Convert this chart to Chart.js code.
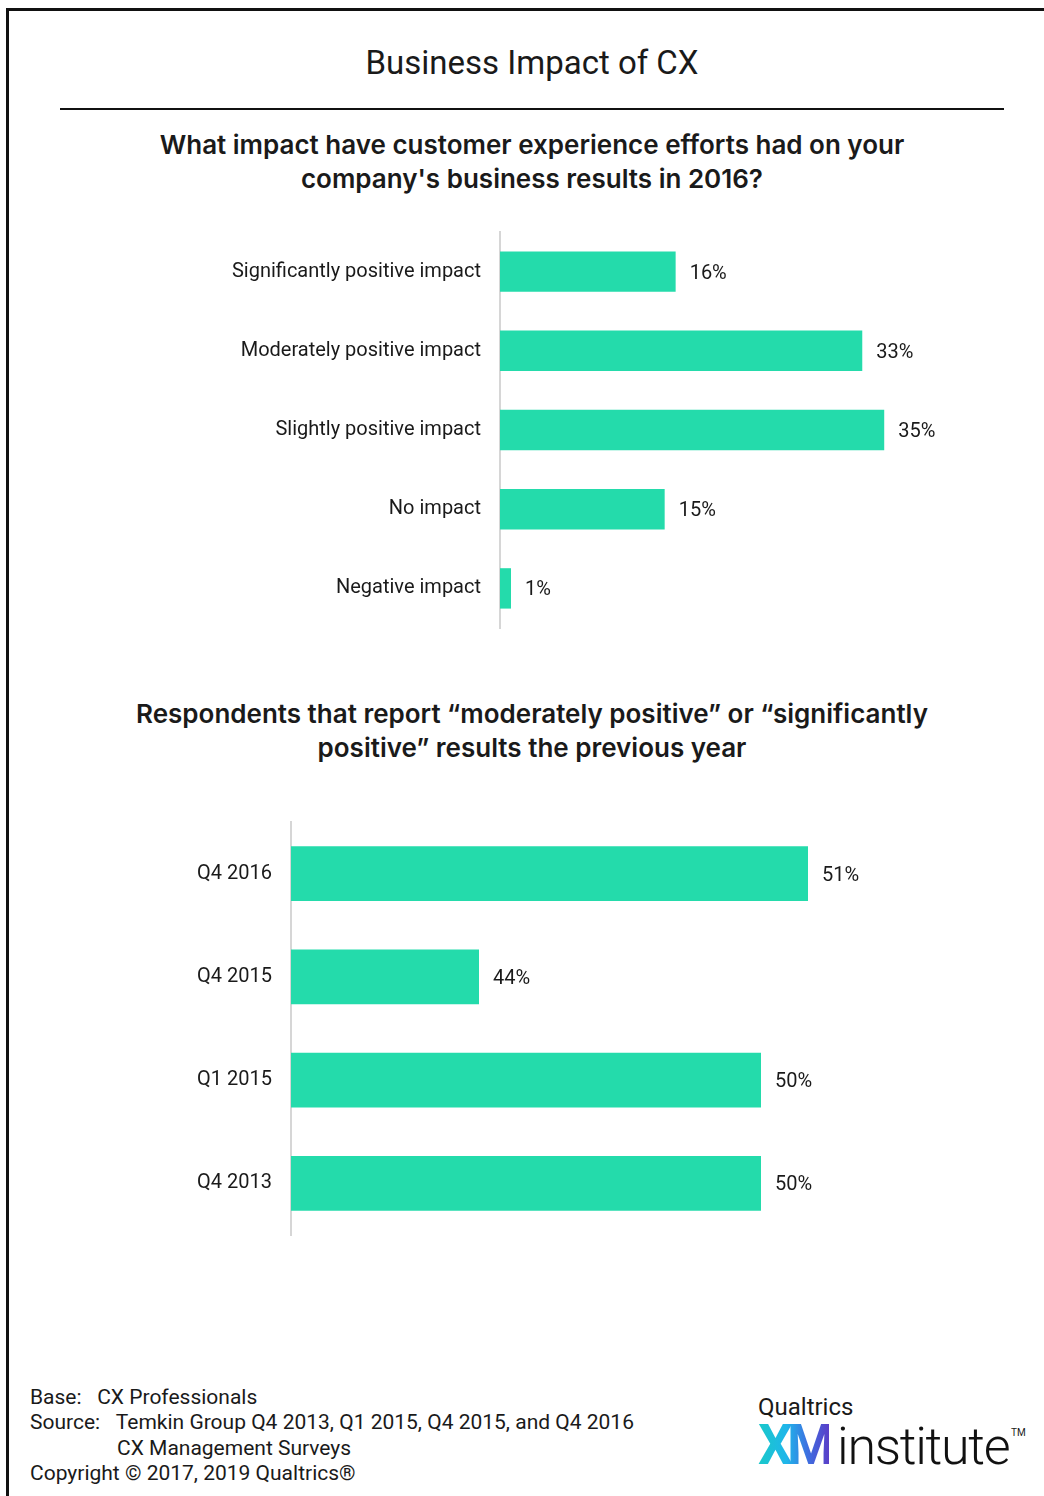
<!DOCTYPE html>
<html>
<head>
<meta charset="utf-8">
<title>Business Impact of CX</title>
<script src="https://cdn.jsdelivr.net/npm/chart.js@4"></script>
<style>
  html, body { margin: 0; padding: 0; background: #fff; }
  body { width: 1044px; height: 1496px; position: relative; overflow: hidden; font-family: Roboto, "Liberation Sans", sans-serif; color: #1a1a1a; }
  .frame { position: absolute; left: 6px; top: 8px; width: 1200px; height: 1700px; border: 3px solid #111; box-sizing: border-box; }
  .title { position: absolute; left: 60px; width: 944px; top: 43px; text-align: center; font-size: 33px; line-height: 40px; }
  .rule { position: absolute; left: 60px; width: 944px; top: 108px; height: 2px; background: #111; }
  .question { position: absolute; left: 20px; width: 1024px; text-align: center; font-family: Inter, "Open Sans", sans-serif; font-size: 26px; font-weight: 600; line-height: 34px; }
  canvas { position: absolute; left: 0; }
  .notes { position: absolute; left: 30px; top: 1385px; font-size: 21px; line-height: 25.3px; }
  .notes .ind { padding-left: 87px; }
  .logo { position: absolute; left: 758px; top: 1394px; }
  .logo .brand { font-size: 24px; line-height: 26px; }
  .logo .xm { display: inline-block; font-size: 55px; font-weight: 700; letter-spacing: -6px; line-height: 50px;
    background: linear-gradient(90deg, #19c9c9 0%, #1fb6ea 40%, #3d6fe0 70%, #5a3fc8 100%);
    -webkit-background-clip: text; background-clip: text; color: transparent; }
  .logo .inst { display: inline-block; font-size: 52px; font-weight: 300; letter-spacing: -1.3px; line-height: 50px; margin-left: 8px; color: #111; }
  .logo .tm { position: absolute; left: 253px; top: 33px; font-size: 10px; }
</style>
</head>
<body>
<div class="frame"></div>
<div class="title">Business Impact of CX</div>
<div class="rule"></div>
<div class="question" style="top:128px">What impact have customer experience efforts had on your<br>company's business results in 2016?</div>
<canvas id="impactChart" width="1044" height="440" style="top:210px"></canvas>
<div class="question" style="top:697px">Respondents that report “moderately positive” or “significantly<br>positive” results the previous year</div>
<canvas id="trendChart" width="1044" height="460" style="top:800px"></canvas>
<div class="notes">
  <div>Base:&nbsp;&nbsp;&nbsp;CX Professionals</div>
  <div>Source:&nbsp;&nbsp;&nbsp;Temkin Group Q4 2013, Q1 2015, Q4 2015, and Q4 2016</div>
  <div class="ind">CX Management Surveys</div>
  <div>Copyright © 2017, 2019 Qualtrics®</div>
</div>
<div class="logo">
  <div class="brand">Qualtrics</div>
  <div><span class="xm">XM</span><span class="inst">institute</span></div>
  <div class="tm">TM</div>
</div>
<script>
// survey answers, 2016
const impactLabels = ['Significantly positive impact', 'Moderately positive impact', 'Slightly positive impact', 'No impact', 'Negative impact'];
const impactValues = [16, 33, 35, 15, 1];

// moderately + significantly positive, by survey wave
const trendLabels = ['Q4 2016', 'Q4 2015', 'Q1 2015', 'Q4 2013'];
const trendValues = [51, 44, 50, 50];

const barColor = '#24dbab';
const textColor = '#1a1a1a';
const fontFamily = 'Roboto, "Liberation Sans", sans-serif';

// writes "NN%" just past the end of each bar
const valueLabels = {
  id: 'valueLabels',
  afterDatasetsDraw(chart, args, opts) {
    const ctx = chart.ctx;
    const meta = chart.getDatasetMeta(0);
    const values = chart.data.datasets[0].data;
    ctx.save();
    ctx.font = opts.size + 'px ' + fontFamily;
    ctx.fillStyle = textColor;
    ctx.textBaseline = 'middle';
    ctx.textAlign = 'left';
    meta.data.forEach((bar, i) => {
      ctx.fillText(values[i] + '%', bar.x + 14, bar.y + 2);
    });
    ctx.restore();
  }
};

function makeChart(id, labels, values, cfg) {
  return new Chart(document.getElementById(id), {
    type: 'bar',
    data: {
      labels: labels,
      datasets: [{
        data: values,
        backgroundColor: barColor,
        borderWidth: 0,
        barPercentage: cfg.barPct,
        categoryPercentage: 1
      }]
    },
    plugins: [valueLabels],
    options: {
      indexAxis: 'y',
      responsive: false,
      animation: false,
      layout: { padding: cfg.padding },
      plugins: {
        legend: { display: false },
        tooltip: { enabled: false },
        valueLabels: { size: cfg.valueSize }
      },
      scales: {
        x: { display: false, min: cfg.min, max: cfg.max },
        y: {
          grid: { display: false, drawTicks: false },
          border: { display: true, color: '#d6d6d6', width: 2 },
          ticks: { color: textColor, padding: 19, font: { family: fontFamily, size: cfg.labelSize } },
          afterFit(axis) {
            // fixed label column; layout padding alone sets the plot height
            axis.width = cfg.axisX;
            axis.paddingTop = 0;
            axis.paddingBottom = 0;
          }
        }
      }
    }
  });
}

// 0-45% across ~494px
makeChart('impactChart', impactLabels, impactValues, {
  min: 0, max: 45, barPct: 0.51, axisX: 500,
  padding: { top: 22, bottom: 22, right: 50, left: 0 },
  labelSize: 20, valueSize: 20
});

// axis starts at 40%
makeChart('trendChart', trendLabels, trendValues, {
  min: 40, max: 52, barPct: 0.53, axisX: 291,
  padding: { top: 22, bottom: 25, right: 189, left: 0 },
  labelSize: 20, valueSize: 20
});
</script>
</body>
</html>
